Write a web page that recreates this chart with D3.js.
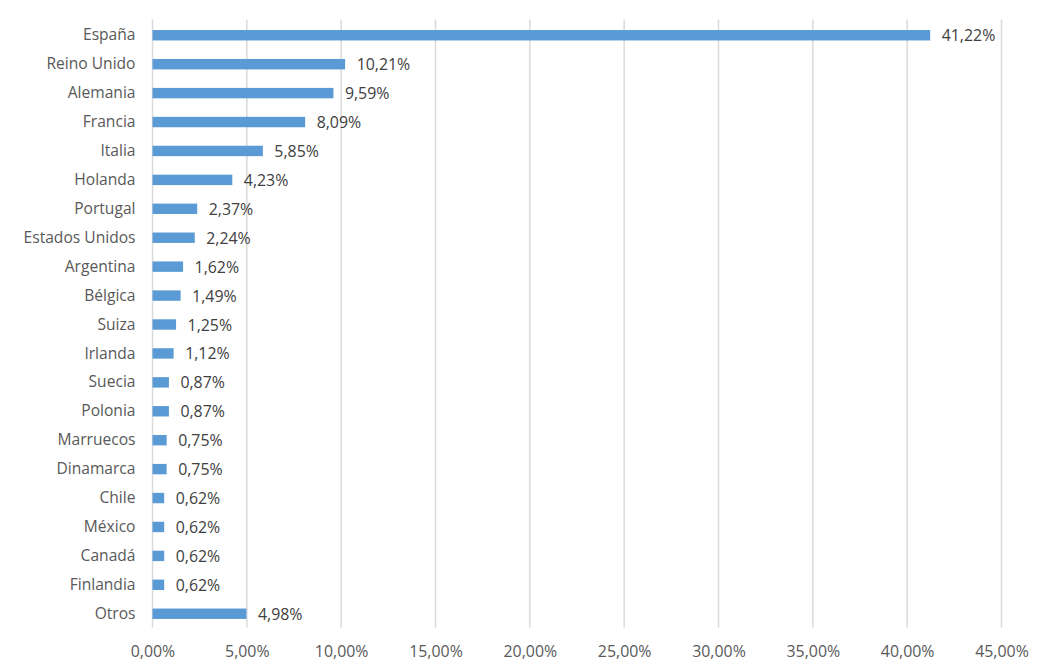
<!DOCTYPE html>
<html>
<head>
<meta charset="utf-8">
<script src="https://cdn.jsdelivr.net/npm/d3@7"></script>
<style>
  html, body { margin: 0; padding: 0; background: #fff; }
  svg { display: block; }
  text { font-family: "Open Sans", sans-serif; }
</style>
</head>
<body>
<svg id="chart" width="1038" height="668"></svg>
<script>
const countries = ['España', 'Reino Unido', 'Alemania', 'Francia', 'Italia', 'Holanda', 'Portugal',
  'Estados Unidos', 'Argentina', 'Bélgica', 'Suiza', 'Irlanda', 'Suecia', 'Polonia', 'Marruecos',
  'Dinamarca', 'Chile', 'México', 'Canadá', 'Finlandia', 'Otros'];
const shares = [41.22, 10.21, 9.59, 8.09, 5.85, 4.23, 2.37, 2.24, 1.62, 1.49, 1.25, 1.12, 0.87, 0.87,
  0.75, 0.75, 0.62, 0.62, 0.62, 0.62, 4.98];
const xTicks = [0, 5, 10, 15, 20, 25, 30, 35, 40, 45];

const pct = d => d.toFixed(2).replace('.', ',') + '%';

const svg = d3.select('#chart');

const x = d3.scaleLinear().domain([0, 45]).range([152.5, 1001.5]);
const y = d3.scaleBand().domain(countries).range([20.5, 628.5]).paddingInner(0.64).paddingOuter(0.33);

// Gridlines
svg.append('g')
  .selectAll('line')
  .data(xTicks)
  .enter()
  .append('line')
  .attr('x1', d => x(d))
  .attr('x2', d => x(d))
  .attr('y1', 19.5)
  .attr('y2', 627.5)
  .attr('stroke', '#d9d9d9')
  .attr('stroke-width', 1.5);

// Bars
svg.append('g')
  .selectAll('rect')
  .data(countries)
  .enter()
  .append('rect')
  .attr('x', x(0))
  .attr('y', d => y(d))
  .attr('width', (d, i) => x(shares[i]) - x(0))
  .attr('height', y.bandwidth())
  .attr('fill', '#5b9bd5');

// Value labels
svg.append('g')
  .selectAll('text')
  .data(shares)
  .enter()
  .append('text')
  .attr('x', d => x(d) + 11.5)
  .attr('y', (d, i) => y(countries[i]) + y.bandwidth() / 2)
  .attr('dy', '0.38em')
  .attr('font-size', 15.9)
  .attr('fill', '#404040')
  .text(pct);

// Category labels
svg.append('g')
  .selectAll('text')
  .data(countries)
  .enter()
  .append('text')
  .attr('x', 135.5)
  .attr('y', d => y(d) + y.bandwidth() / 2)
  .attr('dy', '0.33em')
  .attr('text-anchor', 'end')
  .attr('font-size', 15.6)
  .attr('fill', '#595959')
  .text(d => d);

// X axis labels
const axis = svg.append('g')
  .attr('transform', 'translate(0,651)')
  .call(d3.axisBottom(x).tickValues(xTicks).tickSize(0).tickFormat(pct));
axis.select('.domain').remove();
axis.selectAll('text')
  .attr('y', 0)
  .attr('dy', '0.35em')
  .attr('font-family', '"Open Sans", sans-serif')
  .attr('font-size', 15.9)
  .attr('fill', '#595959');
</script>
</body>
</html>
